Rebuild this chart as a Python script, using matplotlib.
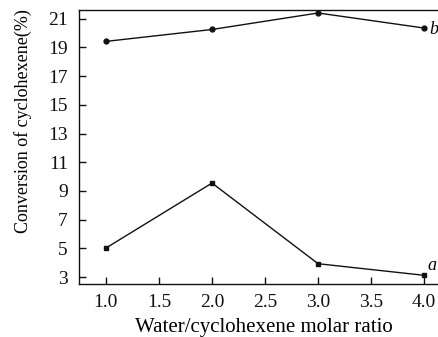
import matplotlib
matplotlib.use("Agg")
import matplotlib.pyplot as plt

ratio = [1.0, 2.0, 3.0, 4.0]
conv_a = [5.02, 9.55, 3.93, 3.12]
conv_b = [19.42, 20.25, 21.4, 20.35]
xticks = [1.0, 1.5, 2.0, 2.5, 3.0, 3.5, 4.0]
yticks = [3, 5, 7, 9, 11, 13, 15, 17, 19, 21]

plt.rcParams['font.family'] = ['Liberation Serif', 'DejaVu Serif']

fig = plt.figure(figsize=(4.38, 3.37), dpi=100)
ax = fig.add_axes([0.180, 0.157, 0.82, 0.813])

ax.plot(ratio, conv_b, '-', color='#111111', lw=1.0, marker='o', ms=3.5, clip_on=False)
ax.plot(ratio, conv_a, '-', color='#111111', lw=1.0, marker='s', ms=3.5, clip_on=False)

ax.set_xlim(0.745, 4.13)
ax.set_ylim(2.51, 21.6)
ax.set_xticks(xticks)
ax.set_xticklabels([f"{v:.1f}" for v in xticks])
ax.set_yticks(yticks)
ax.tick_params(direction='in', length=5, width=1.0, labelsize=14, colors='#111111')
ax.tick_params(axis='x', pad=7)
ax.tick_params(axis='y', pad=8)
ax.spines['right'].set_visible(False)
for s in ['left', 'top', 'bottom']:
    ax.spines[s].set_linewidth(1.0)
    ax.spines[s].set_color('#111111')

ax.set_xlabel('Water/cyclohexene molar ratio', fontsize=15)
ax.set_ylabel('Conversion of cyclohexene(%)', fontsize=13)
ax.xaxis.set_label_coords(0.515, -0.125)
ax.yaxis.set_label_coords(-0.13, 0.595)

ax.text(4.035, conv_a[-1] + 0.7, 'a', fontsize=13, style='italic', ha='left', va='center', clip_on=False)
ax.text(4.045, conv_b[-1] - 0.1, 'b', fontsize=13, style='italic', ha='left', va='center', clip_on=False)

fig.savefig('out.png', dpi=100)
